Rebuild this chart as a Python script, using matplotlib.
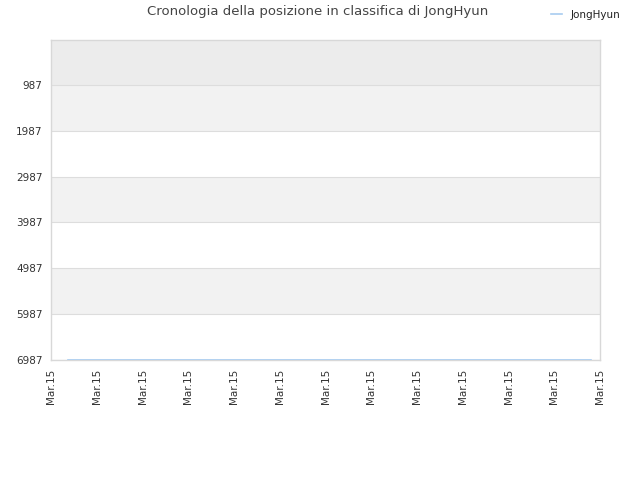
import matplotlib
matplotlib.use("Agg")
import matplotlib.pyplot as plt

# data
x_pos = [0.37, 11.8]
ranks = [6987, 6987]
tick_labels = ["Mar.15"] * 13
y_ticks = [987, 1987, 2987, 3987, 4987, 5987, 6987]
series_name = "JongHyun"

fig = plt.figure(figsize=(6.4, 4.8), dpi=100)
ax = fig.add_axes([0.0797, 0.25, 0.8578, 0.6667])

y_top = 5
y_bot = 6987
# background bands
ax.axhspan(y_top, 987, color="#ececec", zorder=0, lw=0)
for i, lo in enumerate(y_ticks[:-1]):
    if i % 2 == 0:
        ax.axhspan(lo, lo + 1000, color="#f2f2f2", zorder=0, lw=0)
for y in y_ticks:
    ax.axhline(y, color="#dddddd", lw=0.8, zorder=1)

ax.plot(x_pos, ranks, color="#a8ccf0", lw=1.2, zorder=3, label=series_name)

ax.set_xlim(0, 12)
ax.set_ylim(y_bot, y_top)
ax.set_xticks(range(13))
ax.set_xticklabels(tick_labels, rotation=90, fontsize=7.5, color="#333333")
ax.set_yticks(y_ticks)
ax.set_yticklabels([str(v) for v in y_ticks], fontsize=7.5, color="#333333")
ax.tick_params(length=0, pad=6)
for s in ax.spines.values():
    s.set_color("#d8d8d8")
    s.set_linewidth(1)

fig.text(0.497, 0.975, "Cronologia della posizione in classifica di JongHyun",
         ha="center", va="center", fontsize=9.5, color="#444444")
leg = fig.legend(loc="center", bbox_to_anchor=(0.915, 0.969), frameon=False,
                 fontsize=7.5, handlelength=1.0, handletextpad=0.8)
for t in leg.get_texts():
    t.set_color("#222222")

fig.savefig("out.png", dpi=100)
